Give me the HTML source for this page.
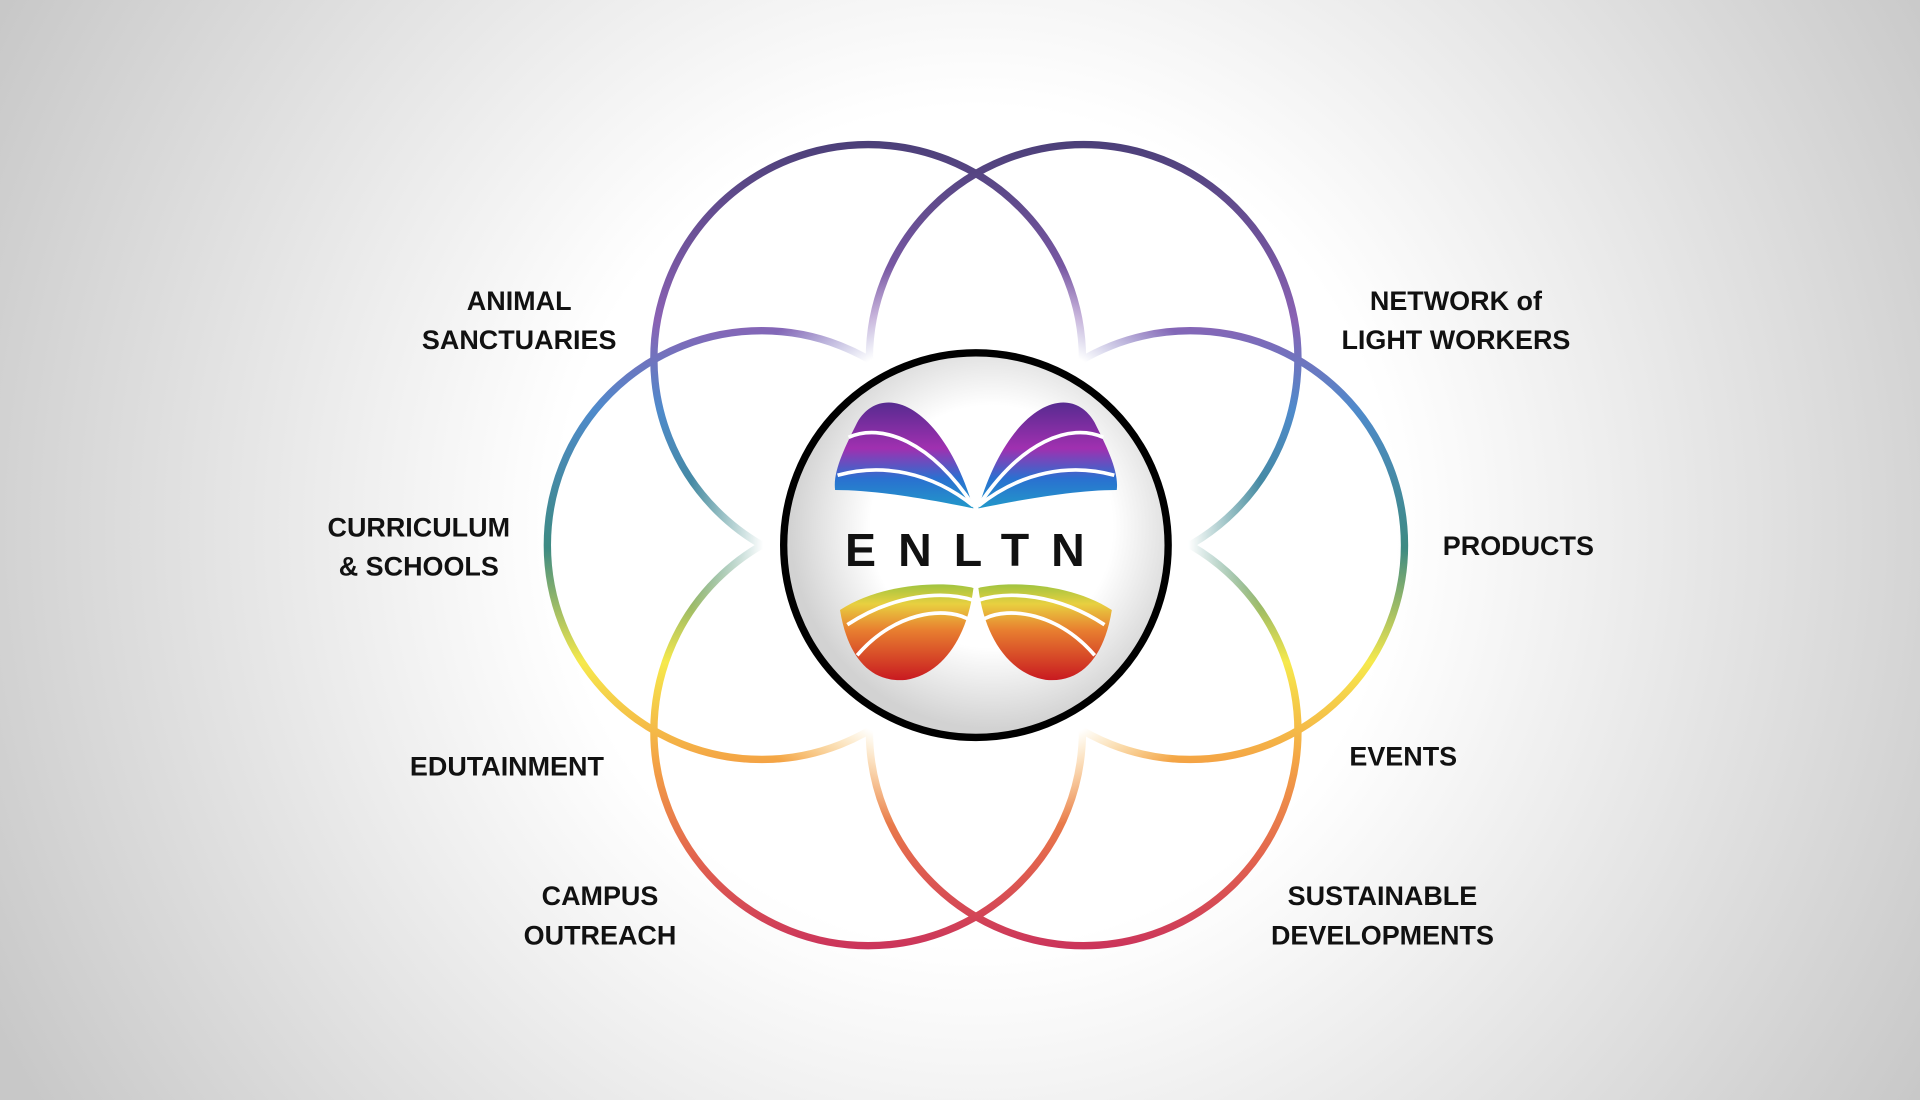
<!DOCTYPE html>
<html><head><meta charset="utf-8"><style>
html,body{margin:0;padding:0;width:1920px;height:1100px;overflow:hidden;}
svg{display:block}
text{font-family:"Liberation Sans",sans-serif;font-weight:bold;fill:#111;}
</style></head><body>
<svg width="1920" height="1100" viewBox="0 0 1568 898" preserveAspectRatio="none">
<defs>
<radialGradient id="bg" cx="797" cy="430" r="900" gradientUnits="userSpaceOnUse">
<stop offset="0.38" stop-color="#ffffff"/><stop offset="1" stop-color="#c8c8c8"/></radialGradient>
<linearGradient id="rb" x1="0" y1="115" x2="0" y2="780" gradientUnits="userSpaceOnUse">
<stop offset="0" stop-color="#4b3f78"/>
<stop offset="0.22" stop-color="#8a62b4"/>
<stop offset="0.33" stop-color="#4f8acb"/>
<stop offset="0.5" stop-color="#3d8a82"/>
<stop offset="0.64" stop-color="#f6e94c"/>
<stop offset="0.76" stop-color="#f4a545"/>
<stop offset="0.88" stop-color="#e2644e"/>
<stop offset="1" stop-color="#c9305c"/>
</linearGradient>
<radialGradient id="fade" cx="797" cy="445" r="280" gradientUnits="userSpaceOnUse">
<stop offset="0.62" stop-color="#000"/><stop offset="0.85" stop-color="#fff"/></radialGradient>
<mask id="m"><rect width="1568" height="898" fill="url(#fade)"/></mask>
<radialGradient id="disc" cx="810" cy="430" r="165" gradientUnits="userSpaceOnUse">
<stop offset="0.6" stop-color="#ffffff"/><stop offset="1" stop-color="#d2d2d2"/></radialGradient>
<linearGradient id="w1" x1="0" y1="322" x2="0" y2="420" gradientUnits="userSpaceOnUse">
<stop offset="0" stop-color="#4a2a8a"/><stop offset="0.45" stop-color="#a030b0"/><stop offset="0.7" stop-color="#2a70d0"/><stop offset="1" stop-color="#20a0c8"/></linearGradient>
<linearGradient id="w2" x1="0" y1="472" x2="0" y2="556" gradientUnits="userSpaceOnUse">
<stop offset="0" stop-color="#8ac040"/><stop offset="0.25" stop-color="#e8d040"/><stop offset="0.5" stop-color="#e88030"/><stop offset="1" stop-color="#c81820"/></linearGradient>
</defs>
<rect width="1568" height="898" fill="url(#bg)"/>
<g fill="none" stroke="url(#rb)" stroke-width="6" mask="url(#m)">
<circle cx="709" cy="293" r="175"/>
<circle cx="885" cy="293" r="175"/>
<circle cx="622" cy="445" r="175"/>
<circle cx="972" cy="445" r="175"/>
<circle cx="709" cy="597" r="175"/>
<circle cx="885" cy="597" r="175"/>
</g>
<circle cx="797" cy="445" r="157" fill="url(#disc)" stroke="#000" stroke-width="6"/>
<path d="M795 415 C770 330 720 310 700 345 C690 365 680 385 682 400 C720 400 770 410 795 415Z" fill="url(#w1)"/>
<path d="M799 415 C824 330 874 310 894 345 C904 365 914 385 912 400 C874 400 824 410 799 415Z" fill="url(#w1)"/>
<g fill="none" stroke="#fff" stroke-width="3">
<path d="M795 413 C760 360 720 345 693 357"/><path d="M795 413 C760 385 720 378 684 388"/>
<path d="M799 413 C834 360 874 345 901 357"/><path d="M799 413 C834 385 874 378 910 388"/>
</g>
<path d="M686 498 C720 476 770 474 795 480 C790 520 770 550 740 555 C710 558 692 535 686 498Z" fill="url(#w2)"/>
<path d="M908 498 C874 476 824 474 799 480 C804 520 824 550 854 555 C884 558 902 535 908 498Z" fill="url(#w2)"/>
<g fill="none" stroke="#fff" stroke-width="3">
<path d="M692 510 C730 485 770 482 795 490"/><path d="M700 535 C730 500 770 495 790 505"/>
<path d="M902 510 C864 485 824 482 799 490"/><path d="M894 535 C864 500 824 495 804 505"/>
</g>
<text x="797" y="462" font-size="38" text-anchor="middle" letter-spacing="18">ENLTN</text>
<g font-size="22" text-anchor="middle">
<text x="424" y="253">ANIMAL</text><text x="424" y="285">SANCTUARIES</text>
<text x="1189" y="253">NETWORK of</text><text x="1189" y="285">LIGHT WORKERS</text>
<text x="342" y="438">CURRICULUM</text><text x="342" y="470">&amp; SCHOOLS</text>
<text x="1240" y="453">PRODUCTS</text>
<text x="414" y="633">EDUTAINMENT</text>
<text x="1146" y="625">EVENTS</text>
<text x="490" y="739">CAMPUS</text><text x="490" y="771">OUTREACH</text>
<text x="1129" y="739">SUSTAINABLE</text><text x="1129" y="771">DEVELOPMENTS</text>
</g>
</svg>
</body></html>
